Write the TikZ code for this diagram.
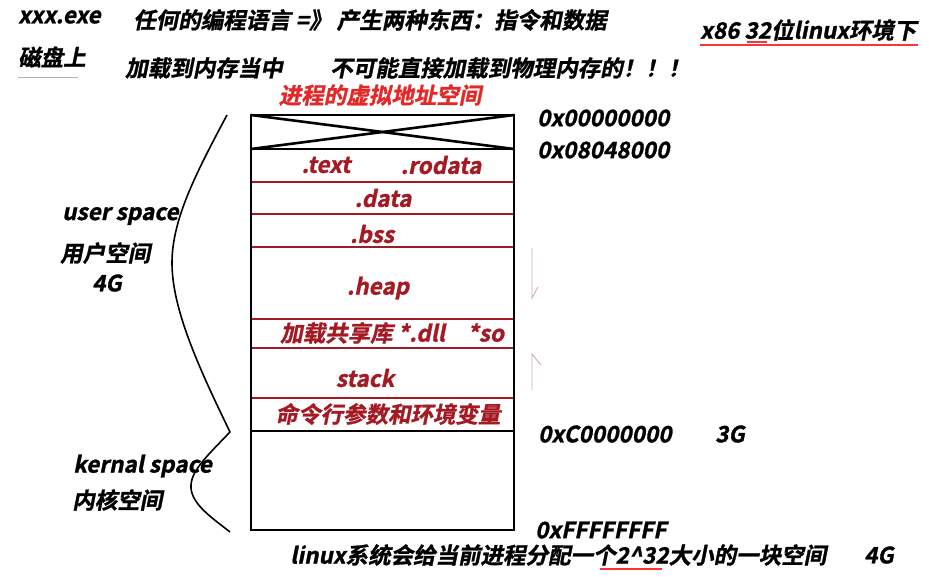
\documentclass[tikz,border=0pt]{standalone}
\usepackage{fontspec}
\setmainfont{Noto Sans CJK SC}[BoldFont={Noto Sans CJK SC Bold},
  BoldItalicFont={Noto Sans CJK SC Bold},BoldItalicFeatures={FakeSlant=0.2,FakeBold=1.2}]
\usepackage{tikz}
\usetikzlibrary{positioning,arrows.meta,calc}
\usepackage{xcolor}
\definecolor{segred}{RGB}{165,25,35}
\definecolor{titlered}{RGB}{228,40,40}
\definecolor{growpink}{RGB}{205,170,175}

\begin{document}
\begin{tikzpicture}[x=1pt,y=-1pt,every node/.style={font=\fontsize{22.5}{26}\selectfont\bfseries\itshape,inner sep=0pt},
  lab/.style={anchor=west},
  seg/.style={text=segred},
  redline/.style={segred,line width=2pt},
  blackline/.style={black,line width=2.6pt},
  growline/.style={growpink,line width=0.9pt}]
\useasboundingbox (0,0) rectangle (929,576);
% header lines
\node[lab] (exe) at (18,17) {xxx.exe};
\node[lab] (lang) at (133,20) {任何的编程语言 =》 产生两种东西：指令和数据};
\node[lab] (disk) at (18,57) {磁盘上};
\node[lab] (load) at (125,68) {加载到内存当中};
\node[lab] (nophys) at (330,68) {不可能直接加载到物理内存的！！！};
\node[lab] (env) at (700,30) {x86 32位linux环境下};
\draw[gray!60,line width=1pt] (18,77) coordinate (du) -- (78,77);
\draw[red!80,line width=1.4pt] (700,45) coordinate (eu) -- (918,45);
\draw[red!80,line width=1.4pt] (747,42) -- (767,42);
% the address space box
\node[text=titlered] (title) at (380,95) {进程的虚拟地址空间};
\coordinate (tl) at (251,115);
\coordinate (br) at (514,530);
\draw[blackline] (tl) -- (tl -| br);
\draw[blackline] (tl) -- (514,149);
\draw[blackline] (tl -| br) -- (251,149);
\foreach \y in {149,431} \draw[blackline] (251,\y) -- (514,\y);
\foreach \y in {182,214,247,319,348,398} \draw[redline] (251,\y) -- (514,\y);
\draw[blackline] (tl) rectangle (br);
\node[seg] (text) at (326,165) {.text};
\node[seg] (rodata) at (441,165) {.rodata};
\node[seg] (data) at (383,198) {.data};
\node[seg] (bss) at (372,234) {.bss};
\node[seg] (heap) at (378,288) {.heap};
\node[seg,lab] (shlib) at (280,333) {加载共享库 *.dll\hspace{1em}*so};
\node[seg] (stack) at (365,378) {stack};
\node[seg] (args) at (388,414) {命令行参数和环境变量};
% growth marks
\draw[growline] (532,248) -- (532,298) -- (538,287);
\draw[growline] (532,390) -- (532,354) -- (541,365);
% addresses
\node[lab] (a0) at (537,118) {0x00000000};
\node[lab] (a1) at (537,150) {0x08048000};
\node[lab] (a2) at (538,434) {0xC0000000};
\node[lab] (g3) at (715,434) {3G};
\node[lab] (a3) at (535,530) {0xFFFFFFFF};
% user / kernel braces
\node[lab] (user) at (62,216) {user space};
\node[lab] (userzh) at (60,253) {用户空间};
\node[lab] (user4g) at (92,283) {4G};
\node[lab] (kern) at (73,466) {kernal space};
\node[lab] (kernzh) at (72,500) {内核空间};
\draw[line width=1.6pt] (227,115) .. controls (195,175) and (172,220) .. (172,263) .. controls (172,310) and (200,370) .. (230,432);
\draw[line width=1.6pt] (230,432) .. controls (205,458) and (190,472) .. (191,488) .. controls (192,505) and (215,520) .. (230,532);
% bottom note
\node[lab] (note) at (290,555) {linux系统会给当前进程分配一个2\^{}32大小的一块空间};
\node[lab] (note4g) at (864,555) {4G};
\draw[red!80,line width=1.4pt] (600,569) -- (662,569);
\end{tikzpicture}
\end{document}
